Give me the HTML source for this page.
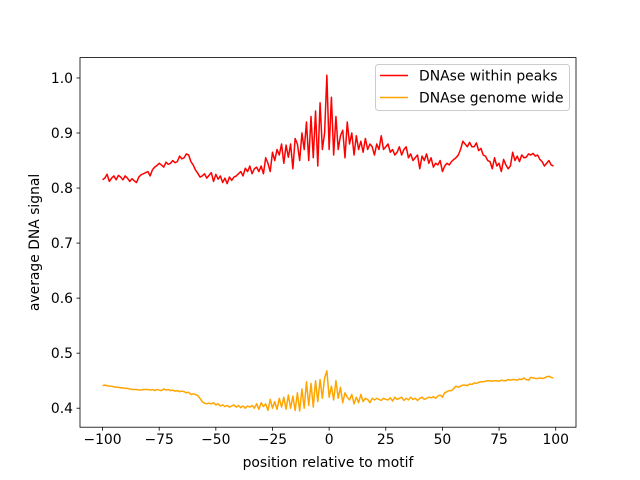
<!DOCTYPE html>
<html><head><meta charset="utf-8"><style>
body{margin:0;background:#fff}
svg{display:block;font-family:"DejaVu Sans","Liberation Sans",sans-serif}
</style></head><body>
<svg id="c" width="640" height="480"></svg>
<script>
const positions=[];for(let i=-100;i<=99;i++)positions.push(i);
const peaksSignal=[.815,.818,.825,.812,.818,.822,.815,.823,.820,.815,
.822,.818,.812,.817,.813,.810,.820,.824,.826,.828,
.830,.822,.833,.838,.841,.845,.842,.838,.847,.843,
.845,.850,.846,.848,.858,.853,.855,.862,.860,.848,
.842,.833,.827,.820,.822,.826,.818,.823,.828,.812,
.825,.816,.822,.810,.818,.808,.820,.814,.820,.822,
.826,.830,.822,.836,.830,.840,.826,.835,.838,.830,
.840,.826,.855,.845,.830,.865,.850,.870,.860,.880,
.845,.878,.856,.880,.835,.890,.880,.850,.900,.870,
.920,.850,.930,.855,.940,.840,.955,.870,.900,1.005,
.870,.965,.860,.930,.870,.895,.905,.855,.920,.880,
.900,.860,.895,.870,.885,.865,.890,.870,.880,.875,
.860,.880,.870,.895,.870,.875,.880,.865,.870,.860,
.865,.875,.860,.870,.875,.855,.862,.850,.855,.860,
.835,.858,.850,.862,.845,.855,.838,.845,.842,.850,
.830,.840,.845,.842,.848,.852,.855,.860,.870,.885,
.880,.875,.883,.875,.875,.882,.868,.872,.860,.858,
.850,.848,.835,.855,.840,.845,.830,.852,.842,.835,
.840,.865,.850,.858,.848,.860,.855,.856,.862,.860,
.863,.858,.860,.852,.848,.840,.845,.850,.842,.840];
const genomeSignal=[.441,.442,.441,.440,.440,.439,.438,.438,.437,.437,
.436,.436,.435,.434,.434,.434,.433,.433,.434,.434,
.434,.433,.434,.432,.434,.433,.432,.435,.433,.434,
.432,.433,.431,.432,.430,.431,.430,.428,.429,.425,
.426,.425,.423,.418,.412,.409,.408,.409,.408,.410,
.406,.408,.404,.406,.403,.405,.402,.404,.406,.402,
.405,.401,.404,.400,.404,.402,.405,.400,.408,.398,
.410,.403,.408,.396,.416,.400,.412,.398,.418,.402,
.420,.398,.424,.400,.422,.396,.428,.395,.435,.400,
.448,.405,.445,.402,.450,.412,.452,.418,.455,.468,
.420,.440,.415,.450,.418,.438,.410,.428,.420,.415,
.425,.408,.420,.410,.425,.412,.418,.416,.410,.418,
.415,.418,.416,.414,.418,.416,.415,.419,.413,.420,
.416,.418,.420,.414,.418,.415,.420,.416,.418,.414,
.418,.420,.416,.418,.420,.419,.421,.418,.422,.424,
.420,.428,.430,.432,.432,.436,.440,.438,.440,.442,
.442,.441,.444,.443,.446,.445,.447,.448,.448,.449,
.450,.450,.449,.450,.450,.449,.451,.450,.450,.452,
.451,.452,.452,.451,.453,.452,.455,.452,.451,.456,
.455,.454,.454,.455,.454,.455,.457,.458,.456,.455];
const xTicks=[-100,-75,-50,-25,0,25,50,75,100];
const yTicks=[0.4,0.5,0.6,0.7,0.8,0.9,1.0];
const yTickLabels=["0.4","0.5","0.6","0.7","0.8","0.9","1.0"];

const L=80,R=576,T=57.6,B=427.2;
const xmin=-109.95,xmax=108.95,ymin=0.3655,ymax=1.037;
const X=v=>L+(v-xmin)/(xmax-xmin)*(R-L);
const Y=v=>B-(v-ymin)/(ymax-ymin)*(B-T);
const s=document.getElementById('c');const NS='http://www.w3.org/2000/svg';
function mk(t,a,p){const e=document.createElementNS(NS,t);for(const k in a)e.setAttribute(k,a[k]);(p||s).appendChild(e);return e;}

function series(vals,color,name){
  const d=vals.map((v,i)=>(i?'L':'M')+X(positions[i]).toFixed(2)+','+Y(v).toFixed(2)).join('');
  const p=mk('path',{d:d,fill:'none',stroke:color,'stroke-width':1.5,'stroke-linejoin':'round'});
  
  
}
series(peaksSignal,'#ff0000','peaks-line');
series(genomeSignal,'#ffa500','genome-line');

const ax=mk('rect',{x:L,y:T,width:R-L,height:B-T,fill:'none',stroke:'#000','stroke-width':0.8});



xTicks.forEach(v=>{
  mk('line',{x1:X(v),x2:X(v),y1:B,y2:B+3.5,stroke:'#000','stroke-width':0.8});
  const t=mk('text',{x:X(v),y:B+17,'text-anchor':'middle','font-size':13.9});
  t.textContent=String(v).replace('-','\u2212');
  
  
});
yTicks.forEach((v,i)=>{
  mk('line',{x1:L,x2:L-3.5,y1:Y(v),y2:Y(v),stroke:'#000','stroke-width':0.8});
  const t=mk('text',{x:L-7,y:Y(v)+5,'text-anchor':'end','font-size':13.9});
  t.textContent=yTickLabels[i];
  
  
});
const xl=mk('text',{x:(L+R)/2,y:467,'text-anchor':'middle','font-size':13.9});
xl.textContent='position relative to motif';


const yl=mk('text',{x:0,y:0,'text-anchor':'middle','font-size':13.9,transform:'translate(39,'+((T+B)/2)+') rotate(-90)'});
yl.textContent='average DNA signal';



const lg=mk('g',{});


mk('rect',{x:375.5,y:64.5,width:194,height:46,rx:3,fill:'#fff','fill-opacity':0.8,stroke:'#ccc'},lg);
[['DNAse within peaks','#ff0000',75.5],['DNAse genome wide','#ffa500',97.5]].forEach(([n,c,y])=>{
  mk('line',{x1:380,x2:408,y1:y,y2:y,stroke:c,'stroke-width':1.5},lg);
  const t=mk('text',{x:419,y:y+5,'font-size':13.9},lg);
  t.textContent=n;
  
  
});
</script>
</body></html>
